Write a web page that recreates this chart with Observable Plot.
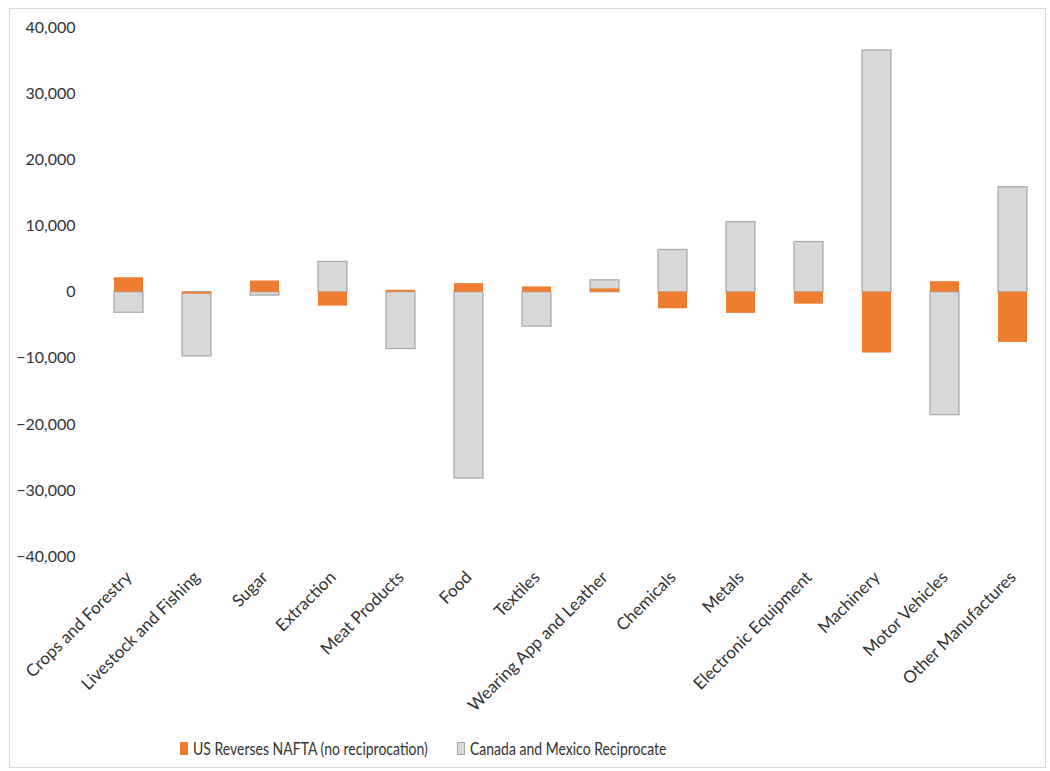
<!DOCTYPE html>
<html><head><meta charset="utf-8">
<script src="https://cdn.jsdelivr.net/npm/d3@7"></script>
<script src="https://cdn.jsdelivr.net/npm/@observablehq/plot@0.6"></script>
<style>
body{margin:0;background:#fff;font-family:Lato,"Open Sans",sans-serif;}
#wrap{position:relative;width:1050px;height:771px;overflow:hidden;}
#frame{position:absolute;left:9px;top:8px;width:1037px;height:760px;border:1px solid #d9d9d9;box-sizing:border-box;}
#chart{position:absolute;left:0;top:0;}
.sw{position:absolute;top:742px;width:8px;height:13px;box-sizing:border-box;}
.lt{position:absolute;top:737px;height:24px;line-height:24px;font-size:17.5px;color:#333;white-space:nowrap;transform:scaleX(0.8);transform-origin:left center;}
</style></head>
<body>
<div id="wrap"><div id="frame"></div><div id="chart"></div>
<div class="sw" style="left:180px;background:#ED7D31"></div>
<div class="lt" style="left:193px">US Reverses NAFTA (no reciprocation)</div>
<div class="sw" style="left:457px;background:#D9D9D9;border:1px solid #a6a6a6"></div>
<div class="lt" style="left:470px">Canada and Mexico Reciprocate</div>
</div>
<script>
const categories = ["Crops and Forestry","Livestock and Fishing","Sugar","Extraction","Meat Products","Food","Textiles","Wearing App and Leather","Chemicals","Metals","Electronic Equipment","Machinery","Motor Vehicles","Other Manufactures"];
const usReverses = [2200, -300, 1700, -2100, 300, 1300, 800, 500, -2500, -3200, -1800, -9200, 1600, -7600];
const reciprocate = [-3100, -9700, -500, 4600, -8600, -28200, -5200, 1800, 6400, 10600, 7600, 36600, -18600, 15900];
const yTicks = [-40000,-30000,-20000,-10000,0,10000,20000,30000,40000];

const grayData = categories.map((c,i)=>({category:c, value:reciprocate[i]}));
const orangeData = categories.map((c,i)=>({category:c, value:usReverses[i]}));

const chart = Plot.plot({
  width: 1050,
  height: 730,
  marginLeft: 94,
  marginRight: 3,
  marginTop: 27.5,
  marginBottom: 174,
  style: {fontFamily: "Lato, 'Open Sans', sans-serif", fontSize: "16px", color: "#333", background: "transparent"},
  x: {domain: categories, paddingInner: 0.57, paddingOuter: 0.285, label: null},
  y: {domain: [-40000, 40000], label: null},
  marks: [
    Plot.gridY(yTicks, {stroke: "#d9d9d9", strokeOpacity: 1, x1: 92}),
    Plot.axisY(yTicks, {tickSize: 0, tickPadding: 19, tickFormat: d3.format(","), fontSize: 16, label: null}),
    Plot.barY(grayData, {x: "category", y: "value", fill: "#D9D9D9", stroke: "#a6a6a6", strokeWidth: 1.2}),
    Plot.barY(orangeData, {x: "category", y: "value", fill: "#ED7D31"}),
    Plot.axisX({tickSize: 0, tickPadding: 18, tickRotate: -45, fontSize: 17, label: null, dx: 0})
  ]
});
document.getElementById("chart").appendChild(chart);
</script>
</body></html>
